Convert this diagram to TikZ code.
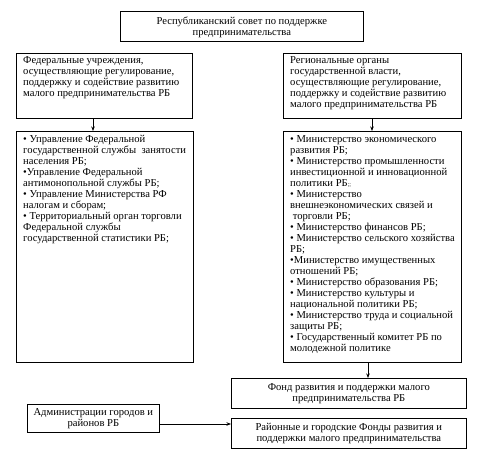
\documentclass[tikz,border=0pt]{standalone}
\usepackage{fontspec}
\setmainfont{Liberation Serif}
\usetikzlibrary{arrows.meta}
\begin{document}
\begin{tikzpicture}[x=1pt,y=-1pt,
  box/.style={draw, line width=0.7pt, inner sep=0pt, anchor=north west},
  ctext/.style={align=center, font=\fontsize{10.6}{11.2}\selectfont},
  ltext/.style={align=left, anchor=north west, inner sep=0pt, font=\fontsize{10.6}{11}\selectfont},
  arr/.style={line width=0.7pt, -{Stealth[length=4.5pt,width=3.5pt]}}]
\useasboundingbox (0,0) rectangle (483,453);
% boxes
\node[box, minimum width=243, minimum height=30] (top) at (120,11) {};
\node[box, minimum width=176, minimum height=65] (fed) at (16,53) {};
\node[box, minimum width=178, minimum height=65] (reg) at (283,53) {};
\node[box, minimum width=177, minimum height=231] (fedlist) at (16,131) {};
\node[box, minimum width=178, minimum height=231] (reglist) at (283,131) {};
\node[box, minimum width=235, minimum height=30] (fond) at (231,378) {};
\node[box, minimum width=132, minimum height=28] (adm) at (27,404) {};
\node[box, minimum width=235, minimum height=30] (raion) at (231,418) {};
% texts
\node[ctext] (topt) at ([yshift=-1]top.center) {Республиканский совет по поддержке\\предпринимательства};
\node[ltext] (fedt) at (23,56) {Федеральные учреждения,\\осуществляющие регулирование,\\поддержку и содействие развитию\\малого предпринимательства РБ};
\node[ltext] (regt) at (290,56) {Региональные органы\\государственной власти,\\осуществляющие регулирование,\\поддержку и содействие развитию\\малого предпринимательства РБ};
\node[ltext] (fedlistt) at (23,135) {• Управление Федеральной\\государственной службы~ занятости\\населения РБ;\\•Управление Федеральной\\антимонопольной службы РБ;\\• Управление Министерства РФ\\налогам и сборам;\\• Территориальный орган торговли\\Федеральной службы\\государственной статистики РБ;};
\node[ltext] (reglistt) at (290,135) {• Министерство экономического\\развития РБ;\\• Министерство промышленности\\инвестиционной и инновационной\\политики РБ{\fontsize{6}{6}\selectfont;;}\\• Министерство\\внешнеэкономических связей и\\~торговли РБ;\\• Министерство финансов РБ;\\• Министерство сельского хозяйства\\РБ;\\•Министерство имущественных\\отношений РБ;\\• Министерство образования РБ;\\• Министерство культуры и\\национальной политики РБ;\\• Министерство труда и социальной\\защиты РБ;\\• Государственный комитет РБ по\\молодежной политике};
\node[ctext] (fondt) at (fond.center) {Фонд развития и поддержки малого\\предпринимательства РБ};
\node[ctext] (admt) at (adm.center) {Администрации городов и\\районов РБ};
\node[ctext] (raiont) at (raion.center) {Районные и городские Фонды развития и\\поддержки малого предпринимательства};
% connector x positions
\coordinate (xl) at (93,0);
\coordinate (xr) at (372,0);
\coordinate (xf) at (368,0);
\coordinate (ya) at (0,424);
\draw[arr] (fed.south -| xl) -- (fedlist.north -| xl);
\draw[arr] (reg.south -| xr) -- (reglist.north -| xr);
\draw[arr] (reglist.south -| xf) -- (fond.north -| xf);
\draw[arr] (adm.east |- ya) -- (raion.west |- ya);
\end{tikzpicture}
\end{document}
